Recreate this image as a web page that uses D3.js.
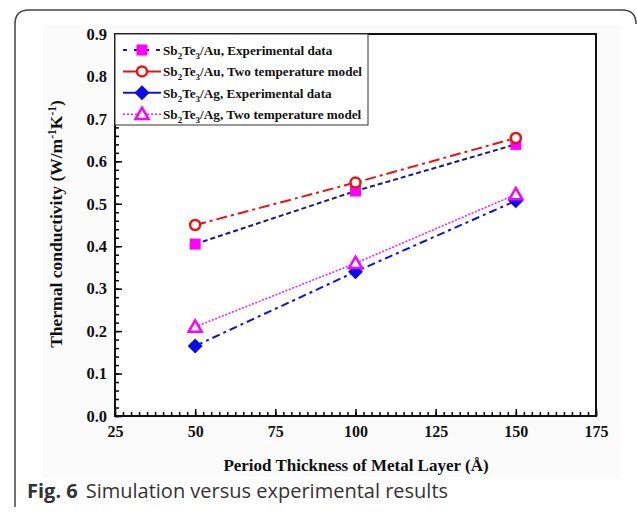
<!DOCTYPE html>
<html>
<head>
<meta charset="utf-8">
<script src="https://cdnjs.cloudflare.com/ajax/libs/d3/7.8.5/d3.min.js"></script>
<style>
	body { margin: 0; background: #fff; }
	svg text { font-family: "Liberation Serif", "Times New Roman", serif; font-weight: bold; fill: #111; }
</style>
</head>
<body>
<div class="chart"></div>
<script>
var width = 637;
var height = 513;

// data
var thickness = [50, 100, 150];
var auExperimental = [0.405, 0.53, 0.64];
var auModel = [0.45, 0.55, 0.655];
var agExperimental = [0.165, 0.34, 0.507];
var agModel = [0.21, 0.36, 0.522];

var xTicks = [25, 50, 75, 100, 125, 150, 175];
var yTicks = [0, 0.1, 0.2, 0.3, 0.4, 0.5, 0.6, 0.7, 0.8, 0.9];

var legendMetal = ["Au", "Au", "Ag", "Ag"];
var legendKind = ["Experimental data", "Two temperature model", "Experimental data", "Two temperature model"];

var plot = { left: 115, right: 596, top: 34, bottom: 416 };

var x = d3.scaleLinear().domain([25, 175]).range([plot.left, plot.right]);
var y = d3.scaleLinear().domain([0, 0.9]).range([plot.bottom, plot.top]);

var series = [
	{ values: auExperimental, line: "#1a1a80", dash: "5,3", width: 2, marker: "square", color: "#ff00ff" },
	{ values: auModel, line: "#ee1111", dash: "11,4,3,4", width: 2, marker: "circle", color: "#ee1111" },
	{ values: agExperimental, line: "#1010ee", dash: "8,4,3,4", width: 2, marker: "diamond", color: "#0a0aee" },
	{ values: agModel, line: "#ee22ee", dash: "2,1.6", width: 1.6, marker: "triangle", color: "#ff00ff" }
];

var svg = d3.select('.chart').append('svg')
	.attr('width', width)
	.attr('height', height);

// card outline round the figure
svg.append('path')
	.attr('d', 'M15,507 L15,24 Q15,10 29,10 L622,10 Q636,10 636,24')
	.attr('fill', 'none')
	.attr('stroke', '#444')
	.attr('stroke-width', 1.5);

// faint image background
svg.append('rect')
	.attr('x', 43).attr('y', 25)
	.attr('width', 577).attr('height', 452)
	.attr('fill', '#fbfbfb');

svg.append('rect')
	.attr('x', plot.left).attr('y', plot.top)
	.attr('width', plot.right - plot.left).attr('height', plot.bottom - plot.top)
	.attr('fill', '#fff');

// minor ticks
svg.append('g')
	.attr('transform', 'translate(0,' + plot.bottom + ')')
	.call(d3.axisBottom(x).tickValues(d3.range(25, 175.1, 2.5)).tickSize(-4).tickFormat(''))
	.call(g => g.select('.domain').remove())
	.selectAll('line').attr('stroke-width', 1.5);

svg.append('g')
	.attr('transform', 'translate(' + plot.left + ',0)')
	.call(d3.axisLeft(y).tickValues(d3.range(0, 0.901, 0.02)).tickSize(-4).tickFormat(''))
	.call(g => g.select('.domain').remove())
	.selectAll('line').attr('stroke-width', 1.5);

// major ticks and labels
var xAxis = svg.append('g')
	.attr('transform', 'translate(0,' + plot.bottom + ')')
	.call(d3.axisBottom(x).tickValues(xTicks).tickSize(-7).tickPadding(10).tickFormat(d3.format('d')));
xAxis.select('.domain').remove();
xAxis.selectAll('line').attr('stroke-width', 1.5);
xAxis.selectAll('text').attr('font-size', 16).attr('fill', '#111');

var yAxis = svg.append('g')
	.attr('transform', 'translate(' + plot.left + ',0)')
	.call(d3.axisLeft(y).tickValues(yTicks).tickSize(-7).tickPadding(8).tickFormat(d3.format('.1f')));
yAxis.select('.domain').remove();
yAxis.selectAll('line').attr('stroke-width', 1.5);
yAxis.selectAll('text').attr('font-size', 16.5).attr('fill', '#111');

// frame
svg.append('rect')
	.attr('x', plot.left).attr('y', plot.top)
	.attr('width', plot.right - plot.left).attr('height', plot.bottom - plot.top)
	.attr('fill', 'none')
	.attr('stroke', '#111')
	.attr('stroke-width', 2);

// axis titles
svg.append('text')
	.attr('x', 356).attr('y', 471)
	.attr('text-anchor', 'middle')
	.attr('font-size', 17)
	.text('Period Thickness of Metal Layer (Å)');

var yTitle = svg.append('text')
	.attr('transform', 'translate(62,' + 224 + ') rotate(-90)')
	.attr('text-anchor', 'middle')
	.attr('font-size', 17.5);
yTitle.append('tspan').text('Thermal conductivity (W/m');
yTitle.append('tspan').attr('dy', -6).attr('font-size', 11.5).text('-1');
yTitle.append('tspan').attr('dy', 6).text('K');
yTitle.append('tspan').attr('dy', -6).attr('font-size', 11.5).text('-1');
yTitle.append('tspan').attr('dy', 6).text(')');

function drawMarker(g, type, color, cx, cy, scale) {
	var s = scale || 1;
	if (type == 'square') {
		g.append('rect')
			.attr('x', cx - 5.5 * s).attr('y', cy - 5.5 * s)
			.attr('width', 11 * s).attr('height', 11 * s)
			.attr('fill', color);
	} else if (type == 'circle') {
		g.append('circle')
			.attr('cx', cx).attr('cy', cy).attr('r', 5 * s)
			.attr('fill', '#fff').attr('stroke', color).attr('stroke-width', 2.5);
	} else if (type == 'diamond') {
		var d = 7.5 * s;
		g.append('path')
			.attr('d', 'M' + cx + ',' + (cy - d) + 'L' + (cx + d) + ',' + cy + 'L' + cx + ',' + (cy + d) + 'L' + (cx - d) + ',' + cy + 'Z')
			.attr('fill', color);
	} else if (type == 'triangle') {
		var h = 6.5 * s;
		g.append('path')
			.attr('d', 'M' + cx + ',' + (cy - h) + 'L' + (cx + h) + ',' + (cy + h * 0.75) + 'L' + (cx - h) + ',' + (cy + h * 0.75) + 'Z')
			.attr('fill', '#fff').attr('stroke', color).attr('stroke-width', 2.5)
			.attr('stroke-linejoin', 'miter');
	}
}

// lines then markers
var line = d3.line()
	.x((d, i) => x(thickness[i]))
	.y(d => y(d));

series.forEach(function(s) {
	svg.append('path')
		.datum(s.values)
		.attr('d', line)
		.attr('fill', 'none')
		.attr('stroke', s.line)
		.attr('stroke-width', s.width)
		.attr('stroke-dasharray', s.dash);
});

var markers = svg.append('g');
series.forEach(function(s) {
	s.values.forEach(function(v, i) {
		drawMarker(markers, s.marker, s.color, x(thickness[i]), y(v));
	});
});

// legend
var legend = svg.append('g');
legend.append('rect')
	.attr('x', plot.left).attr('y', plot.top)
	.attr('width', 253).attr('height', 91)
	.attr('fill', '#fff')
	.attr('stroke', '#333')
	.attr('stroke-width', 1);

var legendDash = ["4,7", null, null, "2,2"];
series.forEach(function(s, i) {
	var ly = 50 + i * 21.4;
	legend.append('line')
		.attr('x1', 123).attr('x2', 161)
		.attr('y1', ly).attr('y2', ly)
		.attr('stroke', s.line)
		.attr('stroke-width', s.width)
		.attr('stroke-dasharray', legendDash[i]);
	drawMarker(legend, s.marker, s.color, 142, ly, 1);

	var t = legend.append('text')
		.attr('x', 163).attr('y', ly + 5)
		.attr('font-size', 13.2);
	t.append('tspan').text('Sb');
	t.append('tspan').attr('dy', 4).attr('font-size', 9).text('2');
	t.append('tspan').attr('dy', -4).text('Te');
	t.append('tspan').attr('dy', 4).attr('font-size', 9).text('3');
	t.append('tspan').attr('dy', -4).text('/' + legendMetal[i] + ', ' + legendKind[i]);
});

// caption
var caption = svg.append('text')
	.attr('x', 27).attr('y', 498)
	.style('font-family', '"Open Sans", "Noto Sans", sans-serif')
	.style('font-weight', 'normal')
	.style('fill', '#333')
	.attr('font-size', 20);
caption.append('tspan').style('font-weight', 'bold').text('Fig. 6');
caption.append('tspan').attr('dx', 8).text('Simulation versus experimental results');
</script>
</body>
</html>
